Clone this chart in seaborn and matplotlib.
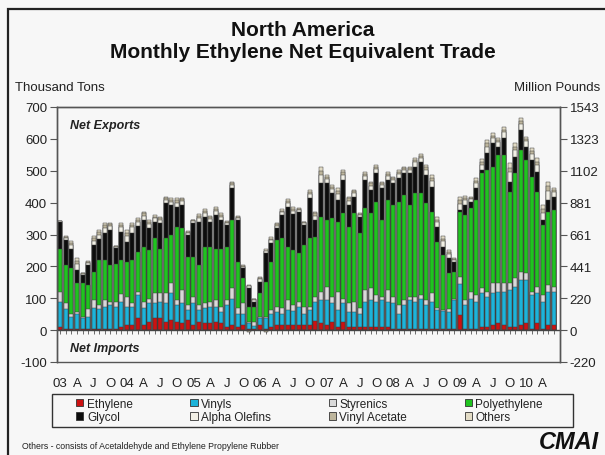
import numpy as np
import pandas as pd
import matplotlib
matplotlib.use("Agg")
import matplotlib.pyplot as plt
from matplotlib.patches import Patch, Rectangle
import seaborn as sns

# ---------------- data (thousand tons, Jan 2003 .. Jun 2010) ----------------
months = pd.date_range("2003-01-01", periods=90, freq="MS")

ethylene = [10,5,5,5,5,5,5,5,5,5,5,10,
            16,16,37,16,26,37,37,26,31,26,21,31,
            16,26,21,21,26,21,10,16,10,16,5,5,
            16,5,10,16,16,16,16,16,16,16,30,21,
            16,26,10,26,10,10,10,10,10,10,10,10,
            5,5,5,5,5,5,5,5,5,5,3,3,
            47,5,5,5,10,10,16,21,16,10,10,16,
            21,5,21,5,16,16]
vinyls = [79,60,37,45,32,37,63,60,68,73,68,79,
          57,57,73,52,58,47,52,58,84,52,63,32,
          68,37,47,52,47,37,68,83,42,36,16,7,
          21,32,42,42,36,47,44,57,36,47,59,73,
          78,58,53,58,48,48,42,79,84,79,84,79,
          79,47,73,89,84,94,73,84,58,55,55,92,
          97,73,94,84,105,95,99,99,104,116,126,141,
          136,105,94,84,104,104]
styrenics = [31,19,10,8,5,23,26,15,21,11,16,24,
             32,11,10,21,15,31,28,33,32,16,42,15,
             21,15,16,16,21,15,16,32,16,32,5,14,
             5,5,11,15,16,31,20,16,21,10,16,26,
             42,21,57,15,26,31,16,37,37,21,11,37,
             21,26,16,11,16,11,17,26,5,3,7,4,
             23,16,21,21,16,15,32,27,27,21,26,26,
             21,10,21,21,21,16]
polyethylene = [133,120,142,89,105,76,89,140,126,115,120,107,
                110,136,126,173,152,173,139,171,151,230,194,152,
                125,126,178,173,162,183,168,214,147,78,47,47,
                73,110,152,210,220,166,170,152,194,215,188,236,
                209,246,220,267,240,277,236,256,235,293,240,282,
                288,325,330,288,324,319,305,257,209,173,113,84,
                205,267,262,298,361,382,366,403,403,287,330,382,
                356,361,298,220,231,241]
glycol = [87,78,59,41,25,63,84,65,84,110,49,89,
          62,86,81,83,68,52,79,110,95,63,73,70,
          105,136,94,78,105,89,68,100,130,32,58,16,
          37,89,57,37,72,125,115,131,63,125,52,104,
          115,78,68,105,69,53,52,89,74,89,100,63,
          68,73,68,99,84,100,87,78,47,26,47,32,
          5,31,21,37,10,53,73,26,52,32,52,63,
          42,53,63,15,36,42]
alpha_olefins = [2,7,14,19,4,7,14,15,17,12,3,14,
                 19,16,12,14,13,11,11,11,10,13,11,6,
                 6,12,12,9,12,11,7,11,7,5,6,5,
                 8,7,10,8,10,13,10,5,5,14,14,27,
                 14,13,19,16,13,11,5,13,13,13,11,13,
                 10,13,11,11,13,12,16,19,15,17,13,5,
                 20,15,7,16,17,21,16,13,18,29,21,19,
                 16,18,21,24,29,13]
vinyl_acetate = [0,3,7,9,2,3,7,7,8,6,2,7,
                 9,8,6,7,7,5,5,5,5,7,6,3,
                 3,6,6,5,6,5,3,5,3,3,-5,3,
                 4,-5,5,4,5,6,5,3,3,7,7,13,
                 7,7,9,8,7,5,3,7,7,7,5,7,
                 5,7,5,5,7,6,8,9,8,8,7,3,
                 10,7,4,8,9,11,8,7,9,14,11,9,
                 8,9,11,12,15,7]
others = [1,3,7,9,2,3,7,7,8,5,1,7,
          9,7,6,6,6,5,5,5,5,6,5,2,
          3,5,5,4,6,5,3,5,3,2,4,2,
          3,5,4,3,5,6,5,2,2,7,6,13,
          6,6,9,7,6,5,2,6,6,6,5,6,
          5,6,5,5,6,6,7,9,7,8,6,2,
          10,7,3,7,8,10,8,6,9,14,10,9,
          7,9,10,11,14,6]

series_names = ["Ethylene", "Vinyls", "Styrenics", "Polyethylene",
                "Glycol", "Alpha Olefins", "Vinyl Acetate", "Others"]
quarter_labels = []
for yy in ["03", "04", "05", "06", "07", "08", "09", "10"]:
    quarter_labels += [yy, "A", "J", "O"]
quarter_labels = quarter_labels[:30]

left_ticks = [-100, 0, 100, 200, 300, 400, 500, 600, 700]
right_labels = ["-220", "0", "220", "441", "661", "881", "1102", "1323", "1543"]

colors = {"Ethylene": "#CC1111", "Vinyls": "#1CB4DA", "Styrenics": "#D9D9D9",
          "Polyethylene": "#1FC41F", "Glycol": "#0D0D0D",
          "Alpha Olefins": "#F2F0E6", "Vinyl Acetate": "#BDB59C",
          "Others": "#E3DCC6"}

df = pd.DataFrame({"Ethylene": ethylene, "Vinyls": vinyls, "Styrenics": styrenics,
                   "Polyethylene": polyethylene, "Glycol": glycol,
                   "Alpha Olefins": alpha_olefins, "Vinyl Acetate": vinyl_acetate,
                   "Others": others}, index=months)

# ---------------- style ----------------
sns.set_theme(style="white")
plt.rcParams["font.family"] = ["Liberation Sans", "DejaVu Sans"]
BG = "#F7F7F7"
TXT = "#222222"

W, H = 605, 456
fig = plt.figure(figsize=(W / 100, H / 100), dpi=100, facecolor=BG)
ax = fig.add_axes([57 / W, 1 - 363 / H, (560 - 57) / W, (363 - 108) / H])
ax.set_facecolor(BG)

idx = np.arange(len(df))
pos = df.clip(lower=0)
neg = df.clip(upper=0)
cum = pos.cumsum(axis=1)

bar_kw = dict(width=0.72, edgecolor="#3c3c3c", linewidth=0.35,
              saturation=1, errorbar=None, ax=ax)
for name in reversed(series_names):
    sns.barplot(x=idx, y=cum[name].values, color=colors[name], **bar_kw)
sns.barplot(x=idx, y=neg["Vinyl Acetate"].values, color=colors["Vinyl Acetate"], **bar_kw)

ax.set_xlim(-0.6, 90.1)
ax.set_ylim(-100, 700)
ax.set_xlabel("")
ax.set_ylabel("")

# zero line with monthly ticks
for s in ["left", "top", "right"]:
    ax.spines[s].set_color("#555555")
    ax.spines[s].set_linewidth(1.0)
ax.spines["bottom"].set_position(("data", 0))
ax.spines["bottom"].set_color("#444444")
ax.spines["bottom"].set_linewidth(1.0)
ax.set_xticks(idx)
ax.set_xticklabels([])
ax.tick_params(axis="x", bottom=True, length=3, width=0.6, direction="out", colors="#555555")

ax.set_yticks(left_ticks)
ax.set_yticklabels([str(v) for v in left_ticks])
ax.tick_params(axis="y", left=True, length=5, width=0.8, direction="out",
               colors="#555555", labelcolor=TXT, labelsize=9.5, pad=2)

# quarter labels below the frame
secax = ax.secondary_xaxis("bottom")
secax.set_xticks(idx[::3], labels=quarter_labels)
secax.tick_params(length=0, pad=11, labelsize=9.5, labelcolor=TXT)
secax.spines["bottom"].set_visible(False)

# right axis in million pounds
ax2 = ax.twinx()
ax2.set_ylim(-100 * 2.20462, 700 * 2.20462)
ax2.set_yticks(np.array(left_ticks) * 2.20462, labels=right_labels)
ax2.tick_params(axis="y", right=True, length=5, width=0.8, direction="out",
                colors="#555555", labelcolor=TXT, labelsize=9.5, pad=2)
for s in ["left", "top", "right", "bottom"]:
    ax2.spines[s].set_color("#555555")
    ax2.spines[s].set_linewidth(1.0)
ax2.patch.set_visible(False)

ax.text(13 / 503, (363 - 126) / 255, "Net Exports", transform=ax.transAxes,
        fontsize=9, fontweight="bold", style="italic", color=TXT, va="center")
ax.text(13 / 503, (363 - 349) / 255, "Net Imports", transform=ax.transAxes,
        fontsize=9, fontweight="bold", style="italic", color=TXT, va="center")

# titles and axis captions
fig.text(0.5, 1 - 30 / H, "North America", ha="center", va="center",
         fontsize=15, fontweight="bold", color="#111111")
fig.text(0.5, 1 - 52 / H, "Monthly Ethylene Net Equivalent Trade", ha="center",
         va="center", fontsize=15, fontweight="bold", color="#111111")
fig.text(15 / W, 1 - 88 / H, "Thousand Tons", ha="left", va="center",
         fontsize=9.5, color=TXT)
fig.text(600 / W, 1 - 88 / H, "Million Pounds", ha="right", va="center",
         fontsize=9.5, color=TXT)

# legend
order = ["Ethylene", "Glycol", "Vinyls", "Alpha Olefins",
         "Styrenics", "Vinyl Acetate", "Polyethylene", "Others"]
handles = [Patch(facecolor=colors[n], edgecolor="#333333", linewidth=0.6) for n in order]
fig.legend(handles, order, ncol=4, loc="center", mode="expand",
           bbox_to_anchor=(74 / W, 1 - 428 / H, (545 - 74) / W, 33 / H),
           frameon=False, fontsize=8.5, handlelength=0.6, handleheight=0.6,
           handletextpad=0.3, labelspacing=0.15, borderaxespad=0, borderpad=0.2,
           labelcolor=TXT)
fig.patches.append(Rectangle((52 / W, 1 - 428 / H), (573 - 52) / W, 33 / H,
                             transform=fig.transFigure, fill=False,
                             edgecolor="#333333", linewidth=1.0))

# footnote and logo
fig.text(22 / W, 1 - 447 / H, "Others - consists of Acetaldehyde and Ethylene Propylene Rubber",
         ha="left", va="center", fontsize=6.3, color=TXT)
fig.text(569 / W, 1 - 443 / H, "CMAI", ha="center", va="center", fontsize=17,
         fontweight="bold", style="italic", color="#111111")

# outer frame
fig.patches.append(Rectangle((8 / W, -0.05), 1.0, 1 - 10 / H + 0.05,
                             transform=fig.transFigure, fill=False,
                             edgecolor="#222222", linewidth=1.6))

fig.savefig("out.png", dpi=100, facecolor=BG)
